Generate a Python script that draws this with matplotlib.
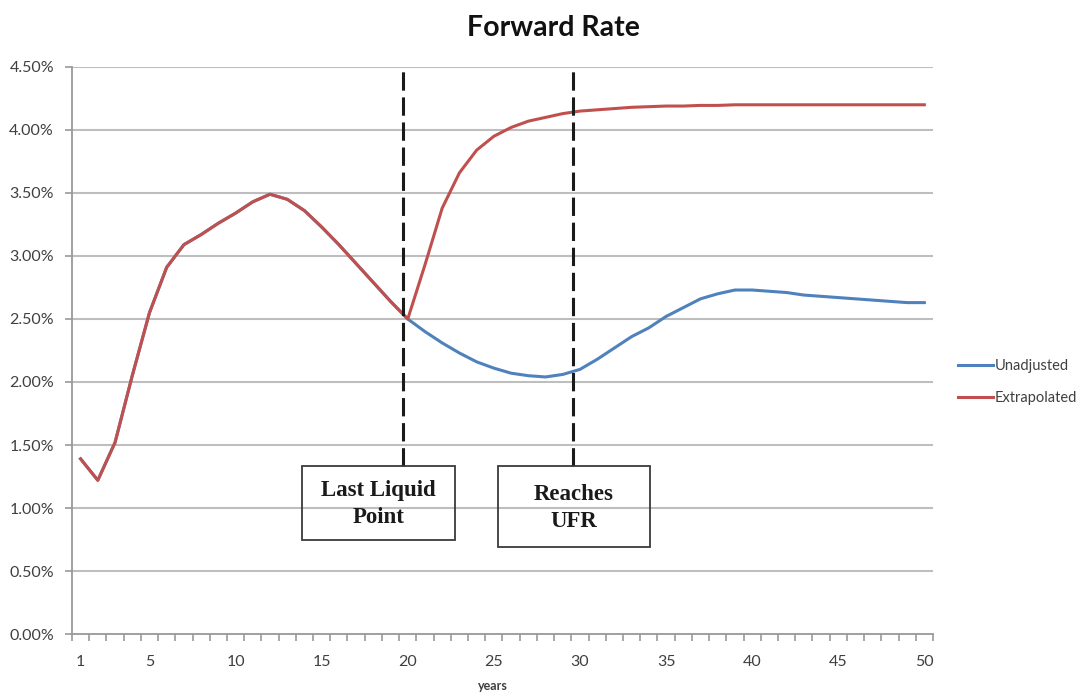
import matplotlib
matplotlib.use("Agg")
import matplotlib.pyplot as plt
from matplotlib.patches import Rectangle
from matplotlib.ticker import FuncFormatter

# Data (percent)
years = list(range(1, 51))
extrapolated = [1.39, 1.22, 1.52, 2.05, 2.55, 2.91, 3.09, 3.17, 3.26, 3.34,
                3.43, 3.49, 3.45, 3.36, 3.23, 3.09, 2.94, 2.79, 2.64, 2.50,
                2.93, 3.38, 3.66, 3.84, 3.95, 4.02, 4.07, 4.10, 4.13, 4.15,
                4.16, 4.17, 4.18, 4.185, 4.19, 4.19, 4.195, 4.195, 4.2, 4.2,
                4.2, 4.2, 4.2, 4.2, 4.2, 4.2, 4.2, 4.2, 4.2, 4.2]
unadjusted = extrapolated[:20] + [
    2.40, 2.31, 2.23, 2.16, 2.11, 2.07, 2.05, 2.04, 2.06, 2.10,
    2.18, 2.27, 2.36, 2.43, 2.52, 2.59, 2.66, 2.70, 2.73, 2.73,
    2.72, 2.71, 2.69, 2.68, 2.67, 2.66, 2.65, 2.64, 2.63, 2.63]
xticks = [1, 5, 10, 15, 20, 25, 30, 35, 40, 45, 50]
yticks = [0, 0.5, 1.0, 1.5, 2.0, 2.5, 3.0, 3.5, 4.0, 4.5]

# annotation markers: (x of dashed line, box x0, box x1, box y0, box y1, text)
markers = [
    (19.7, 13.86, 22.74, 0.746, 1.333, "Last Liquid\nPoint"),
    (29.6, 25.24, 34.07, 0.69, 1.333, "Reaches\nUFR"),
]

blue = "#4F81BD"
red = "#C0504D"
grid_c = "#BEBEBE"
text_c = "#404040"

fig = plt.figure(figsize=(10.89, 6.92), dpi=100)
ax = fig.add_axes([0.0661, 0.0838, 0.7906, 0.8194])

for y in yticks[1:]:
    ax.axhline(y, color=grid_c, lw=1.5, zorder=0)

ax.plot(years, unadjusted, color=blue, lw=2.2, label="Unadjusted", zorder=3)
ax.plot(years, extrapolated, color=red, lw=2.2, label="Extrapolated", zorder=4)

for xl, bx0, bx1, by0, by1, txt in markers:
    ax.plot([xl, xl], [by1, 4.49], color="#1a1a1a", lw=2.2,
            dashes=(6, 2.2), zorder=5)
    ax.add_patch(Rectangle((bx0, by0), bx1 - bx0, by1 - by0, fill=False,
                           edgecolor="#3a3a3a", lw=1.3, zorder=6))
    ax.text((bx0 + bx1) / 2, (by0 + by1) / 2 - 0.01, txt, ha="center",
            va="center", family="Liberation Serif", fontweight="bold",
            fontsize=16.5, linespacing=1.35, color="#1a1a1a", zorder=7)

ax.set_xlim(0.5, 50.5)
ax.set_ylim(0, 4.5)
ax.set_xticks(xticks)
ax.set_xticks([i + 0.5 for i in range(0, 51)], minor=True)
ax.set_yticks(yticks)
ax.yaxis.set_major_formatter(FuncFormatter(lambda v, p: "%.2f%%" % v))

for s in ["top", "right"]:
    ax.spines[s].set_visible(False)
for s in ["left", "bottom"]:
    ax.spines[s].set_color("#999999")
    ax.spines[s].set_linewidth(1.3)

ax.tick_params(axis="x", which="major", length=0, pad=15,
               labelsize=11.5, labelcolor=text_c)
ax.tick_params(axis="x", which="minor", length=5, width=1.2, color="#999999")
ax.tick_params(axis="y", length=5, width=1.2, color="#999999", pad=8,
               labelsize=11.5, labelcolor=text_c)
for lab in ax.get_xticklabels() + ax.get_yticklabels():
    lab.set_family("Lato")

fig.text(0.508, 1 - 28 / 692, "Forward Rate", ha="center", va="center",
         family="Lato", fontweight="bold", fontsize=20.5, color="#111111")
fig.text(0.4527, 1 - 686 / 692, "years", ha="center", va="center",
         family="Lato", fontweight="bold", fontsize=9, color=text_c)

leg = fig.legend(loc="center left", bbox_to_anchor=(0.868, 1 - 382 / 692),
                 frameon=False, handlelength=2.4, handletextpad=0.1,
                 labelspacing=1.25, prop={"family": "Lato", "size": 10.5})
for t in leg.get_texts():
    t.set_color(text_c)

fig.savefig("out.png", dpi=100)
